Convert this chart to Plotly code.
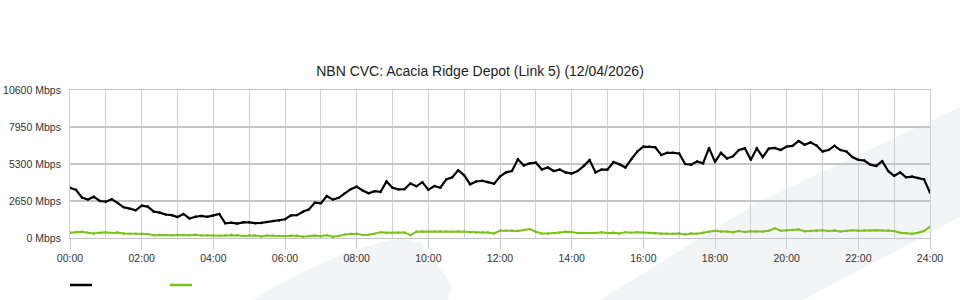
import plotly.graph_objects as go

# ---- data (10-minute samples, 00:00 .. 24:00) ----
hours = [i / 6 for i in range(145)]

download_mbps = [
    3600, 3450, 2900, 2750, 2950, 2650, 2600, 2780, 2500, 2200, 2100, 1980,
    2320, 2250, 1900, 1820, 1680, 1640, 1500, 1720, 1400, 1520, 1580, 1520,
    1620, 1720, 1050, 1100, 1030, 1120, 1120, 1060, 1080, 1140, 1220, 1260,
    1340, 1620, 1640, 1880, 2050, 2530, 2480, 3010, 2750, 2880, 3200, 3500,
    3680, 3400, 3200, 3350, 3300, 4050, 3600, 3480, 3500, 3900, 3700, 4000,
    3450, 3720, 3600, 4200, 4350, 4850, 4500, 3850, 4050, 4100, 4000, 3880,
    4400, 4700, 4800, 5640, 5200, 5350, 5400, 4900, 5050, 4800, 4900, 4700,
    4620, 4800, 5150, 5580, 4700, 4900, 4900, 5440, 5280, 5050, 5650, 6200,
    6550, 6550, 6500, 5950, 6100, 6100, 6050, 5300, 5250, 5480, 5350, 6450,
    5450, 6100, 5700, 5850, 6300, 6420, 5600, 6420, 5800, 6400, 6450, 6300,
    6550, 6600, 6950, 6680, 6850, 6620, 6200, 6300, 6600, 6300, 6200, 5800,
    5600, 5550, 5250, 5160, 5500, 4800, 4450, 4700, 4350, 4400, 4300, 4200,
    3250,
]

upload_mbps = [
    380, 420, 450, 380, 330, 380, 420, 360, 390, 320, 300, 310,
    300, 280, 200, 230, 220, 200, 230, 220, 200, 240, 180, 200,
    180, 170, 180, 230, 200, 150, 190, 180, 100, 180, 170, 150,
    130, 170, 160, 90, 140, 170, 120, 200, 90, 140, 250, 300,
    300, 210, 230, 310, 420, 380, 380, 380, 400, 200, 450, 460,
    450, 460, 480, 460, 450, 460, 440, 400, 400, 400, 400, 320,
    520, 520, 530, 510, 580, 640, 450, 330, 330, 340, 400, 440,
    430, 350, 360, 350, 350, 420, 350, 380, 320, 420, 380, 420,
    390, 360, 340, 280, 300, 300, 320, 260, 330, 310, 380, 460,
    510, 460, 470, 420, 500, 430, 480, 470, 460, 520, 690, 520,
    530, 580, 600, 480, 500, 520, 560, 500, 530, 460, 500, 560,
    520, 540, 530, 560, 540, 530, 500, 380, 350, 300, 380, 500,
    800,
]

x_tick_values = [0, 2, 4, 6, 8, 10, 12, 14, 16, 18, 20, 22, 24]
x_tick_labels = ["00:00", "02:00", "04:00", "06:00", "08:00", "10:00", "12:00",
                 "14:00", "16:00", "18:00", "20:00", "22:00", "24:00"]
y_tick_values = [0, 2650, 5300, 7950, 10600]
y_tick_labels = ["0 Mbps", "2650 Mbps", "5300 Mbps", "7950 Mbps", "10600 Mbps"]

title_text = "NBN CVC: Acacia Ridge Depot (Link 5) (12/04/2026)"

# ---- layout geometry ----
W, H = 960, 300
L, R, T, B = 70, 30, 90, 62
PW, PH = W - L - R, H - T - B


def px(xp, yp):
    """pixel position -> paper coordinates (for decoration shapes only)"""
    return (xp - L) / PW, (H - B - yp) / PH


def path(points):
    parts = []
    for i, (a, b) in enumerate(points):
        xx, yy = px(a, b)
        parts.append(("M" if i == 0 else "L") + f"{xx:.4f},{yy:.4f}")
    return " ".join(parts) + " Z"


BLACK = "#000000"
GREEN = "#7cc11f"

fig = go.Figure()
fig.add_trace(go.Scatter(
    x=hours, y=upload_mbps, mode="lines+markers",
    line=dict(color=GREEN, width=2), marker=dict(size=2.5, color=GREEN),
    showlegend=False, hoverinfo="skip"))
fig.add_trace(go.Scatter(
    x=hours, y=download_mbps, mode="lines+markers",
    line=dict(color=BLACK, width=2.2), marker=dict(size=2.5, color=BLACK),
    showlegend=False, hoverinfo="skip"))

shapes = []
# watermark band (lower right)
shapes.append(dict(type="path", xref="paper", yref="paper", layer="below",
                   path=path([(600, 300), (757, 203), (960, 107), (960, 217), (803, 300)]),
                   fillcolor="#f3f4f6", line=dict(width=0)))
# watermark fin (bottom middle)
fx0, fy0 = px(253, 300)
fx1, fy1 = px(330, 252)
fx2, fy2 = px(400, 238)
fx3, fy3 = px(420, 242)
fx4, fy4 = px(452, 285)
fx5, fy5 = px(448, 300)
fin = (f"M{fx0:.4f},{fy0:.4f} Q{fx1:.4f},{fy1:.4f} {fx2:.4f},{fy2:.4f} "
       f"L{fx3:.4f},{fy3:.4f} L{fx4:.4f},{fy4:.4f} L{fx5:.4f},{fy5:.4f} Z")
shapes.append(dict(type="path", xref="paper", yref="paper", layer="below",
                   path=fin, fillcolor="#f3f4f6", line=dict(width=0)))
# legend samples
lx0, ly = px(70, 285)
lx1, _ = px(92, 285)
shapes.append(dict(type="line", xref="paper", yref="paper", x0=lx0, x1=lx1, y0=ly, y1=ly,
                   line=dict(color=BLACK, width=2.5)))
gx0, _ = px(170, 285)
gx1, _ = px(192, 285)
shapes.append(dict(type="line", xref="paper", yref="paper", x0=gx0, x1=gx1, y0=ly, y1=ly,
                   line=dict(color=GREEN, width=2.5)))

fig.update_layout(
    width=W, height=H,
    margin=dict(l=L, r=R, t=T, b=B, pad=0),
    paper_bgcolor="#ffffff",
    plot_bgcolor="rgba(0,0,0,0)",
    font=dict(family="Liberation Sans, Arial, sans-serif", size=11, color="#333333"),
    title=dict(text=title_text, x=0.5, xanchor="center", xref="container",
               y=1 - 71 / H, yref="container", yanchor="middle",
               font=dict(size=14, color="#222222")),
    shapes=shapes,
    showlegend=False,
    xaxis=dict(
        range=[0, 24], tickvals=x_tick_values, ticktext=x_tick_labels,
        showgrid=True, gridcolor="#d0d0d0", gridwidth=1,
        minor=dict(dtick=1, tick0=0, showgrid=True, gridcolor="#d0d0d0", gridwidth=1),
        ticks="outside", ticklen=10, tickcolor="#cccccc", tickwidth=1,
        showline=True, linecolor="#c4c4c4", linewidth=1, mirror=True,
        zeroline=False, tickfont=dict(size=10.5, color="#333333"),
        automargin=False, fixedrange=True,
    ),
    yaxis=dict(
        range=[0, 10600], tickvals=y_tick_values, ticktext=y_tick_labels,
        showgrid=True, gridcolor="#c6c6c6", gridwidth=2,
        ticks="", ticklabelstandoff=6,
        showline=True, linecolor="#d0d0d0", linewidth=1, mirror=True,
        zeroline=False, tickfont=dict(size=10.5, color="#333333"),
        automargin=False, fixedrange=True,
    ),
)

fig.write_html("out.html", config={"displayModeBar": False})
